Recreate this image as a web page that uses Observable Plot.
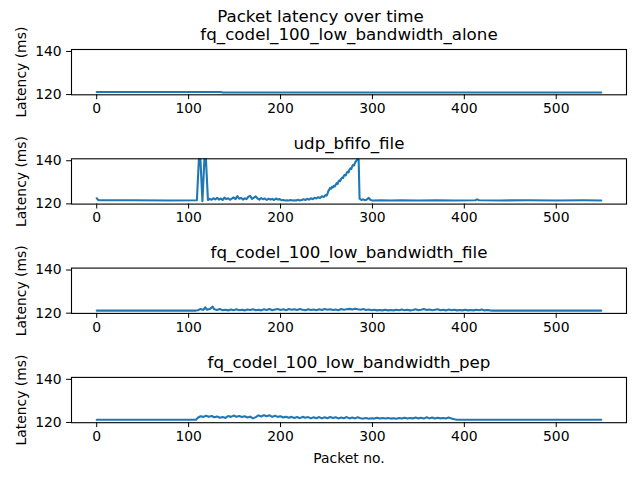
<!DOCTYPE html>
<html>
<head>
<meta charset="utf-8">
<script src="https://cdn.jsdelivr.net/npm/d3@7"></script>
<script src="https://cdn.jsdelivr.net/npm/@observablehq/plot@0.6"></script>
<style>
  body { margin: 0; background: white; }
  #chart { width: 640px; height: 480px; }
</style>
</head>
<body>
<div id="chart"></div>
<script>
const figureTitle = "Packet latency over time";
const panelTitles = [
  "fq_codel_100_low_bandwidth_alone",
  "udp_bfifo_file",
  "fq_codel_100_low_bandwidth_file",
  "fq_codel_100_low_bandwidth_pep"
];
const yLabel = "Latency (ms)";
const xLabel = "Packet no.";
const xTicks = [0, 100, 200, 300, 400, 500];
const yTicks = [120, 140];

// [packet no., latency ms]
const aloneSeries = [[0,121.2],[135,121.2],[137,121.0],[549,121.0]];

const bfifoSeries = [
  [0,122.6],[2,121.7],[40,121.7],[80,121.6],[109,121.7],[112,148],[115,121.3],[118,148],[121,121.8],
  [123,122.3],[125,121.9],[127,122.6],[129,122.1],[131,122.8],[133,122.0],[135,122.5],[137,121.8],
  [139,122.9],[141,122.2],[143,122.6],[145,121.9],[147,122.4],[149,123.0],[151,122.2],[153,123.6],
  [155,122.4],[157,122.8],[159,122.0],[161,122.6],[163,122.2],[165,123.3],[167,123.7],[169,122.3],
  [171,122.9],[173,123.5],[175,122.5],[177,122.0],[179,122.7],[181,122.2],[183,122.5],[185,121.8],
  [187,122.4],[189,122.0],[191,122.3],[193,121.8],[195,122.5],[197,122.0],[199,122.2],[201,121.7],
  [203,121.8],[205,121.6],[207,121.7],[209,121.6],[211,121.8],[213,121.6],[215,121.7],[217,121.6],
  [219,121.9],[221,121.6],[223,121.8],[225,122.1],[227,121.8],[229,122.3],[231,122.0],[233,122.6],
  [235,122.2],[237,122.8],[239,122.5],[241,123.1],[243,122.7],[245,123.5],[247,123.2],[249,124.1],
  [250,123.8],[251,124.6],[252,125.9],[253,126.6],[254,127.4],[255,127.1],[256,127.9],[257,127.6],
  [258,128.4],[259,128.1],[260,128.9],[261,129.6],[262,129.2],[263,130.3],[264,130.9],[265,130.6],
  [266,131.7],[267,132.2],[268,132.0],[269,133.1],[270,133.5],[271,133.2],[272,134.4],[273,134.9],
  [274,134.6],[275,135.9],[276,136.5],[277,136.2],[278,137.4],[279,138.1],[280,137.8],[281,139.0],
  [282,139.7],[283,140.3],[284,140.9],[285,140.6],[286,122.4],[288,121.8],[290,122.1],[292,121.7],
  [294,122.0],[296,122.8],[298,121.8],[300,121.6],[310,121.7],[320,121.6],[330,121.7],[350,121.6],
  [370,121.7],[390,121.6],[412,121.7],[414,122.1],[416,121.7],[440,121.6],[470,121.7],[500,121.6],
  [530,121.7],[549,121.6]
];

const codelFileSeries = [
  [0,121.2],[108,121.2],
  [110,121.4],[113,121.9],[116,121.5],[118,122.7],[120,121.6],[123,121.9],[126,123.0],[128,121.8],
  [131,121.5],[134,121.9],[137,121.4],[140,121.6],[143,121.3],[146,121.7],[149,121.4],[152,121.8],
  [155,121.4],[158,121.6],[161,121.3],[164,121.7],[167,121.5],[170,121.8],[173,121.4],[176,121.6],
  [179,121.3],[182,121.8],[185,121.5],[188,121.9],[191,121.4],[194,121.7],[197,121.9],[200,121.5],
  [203,121.8],[206,121.4],[209,121.9],[212,121.6],[215,121.8],[218,121.5],[221,121.9],[224,121.6],
  [227,121.4],[230,121.8],[233,121.5],[236,121.7],[239,121.4],[242,121.8],[245,121.5],[248,121.9],
  [251,121.6],[254,121.8],[257,121.5],[260,121.7],[263,121.4],[266,121.9],[269,121.6],[272,121.8],
  [275,122.0],[278,121.7],[281,122.1],[284,121.8],[287,121.6],[290,121.9],[293,121.5],[296,121.7],
  [299,121.4],[302,121.6],[305,121.3],[308,121.5],[311,121.3],[314,121.6],[317,121.3],[320,121.5],
  [323,121.3],[326,121.6],[329,121.4],[332,121.7],[335,121.4],[338,121.6],[341,121.3],[344,121.5],
  [347,121.8],[350,121.4],[353,121.6],[356,121.9],[359,121.5],[362,121.7],[365,121.4],[368,121.6],
  [371,121.8],[374,121.4],[377,121.6],[380,121.3],[383,121.7],[386,121.4],[389,121.6],[392,121.3],
  [395,121.5],[398,121.3],[401,121.6],[404,121.3],[407,121.5],[410,121.3],[413,121.6],[416,121.4],
  [419,121.7],[422,121.3],[425,121.5],[428,121.3],[431,121.2],[549,121.2]
];

const codelPepSeries = [
  [0,121.3],[108,121.3],
  [110,122.2],[113,122.9],[116,122.6],[119,123.1],[122,122.7],[125,123.0],[128,122.4],[131,122.8],
  [134,122.2],[137,122.5],[140,122.1],[143,123.0],[146,122.6],[149,123.2],[152,122.7],[155,123.0],
  [158,122.5],[161,122.9],[164,122.3],[167,122.7],[170,121.9],[173,122.5],[176,123.3],[179,122.8],
  [182,123.4],[185,122.9],[188,123.3],[191,122.6],[194,123.1],[197,122.6],[200,122.9],[203,122.3],
  [206,122.7],[209,122.2],[212,122.6],[215,122.1],[218,122.5],[221,122.0],[224,122.6],[227,122.2],
  [230,122.5],[233,121.9],[236,122.4],[239,122.0],[242,122.5],[245,121.9],[248,122.4],[251,122.0],
  [254,122.5],[257,122.1],[260,122.4],[263,121.9],[266,122.3],[269,122.0],[272,122.5],[275,121.9],
  [278,122.3],[281,121.9],[284,122.4],[287,122.0],[290,121.8],[293,122.1],[296,121.7],[299,122.0],
  [302,121.8],[305,122.2],[308,121.8],[311,122.1],[314,121.8],[317,122.1],[320,121.8],[323,122.0],
  [326,121.7],[329,122.1],[332,121.8],[335,122.2],[338,121.8],[341,122.1],[344,121.9],[347,122.3],
  [350,121.9],[353,122.2],[356,121.8],[359,122.4],[362,121.9],[365,122.3],[368,121.8],[371,122.2],
  [374,121.9],[377,122.1],[380,121.8],[383,122.3],[386,121.9],[389,121.5],[392,121.3],[549,121.3]
];

const allSeries = [aloneSeries, bfifoSeries, codelFileSeries, codelPepSeries];

// layout: [svg height, marginTop, marginBottom]
const layouts = [[129, 49, 34.7], [109, 29.3, 34.4], [110, 29.6, 35.1], [132, 28.9, 57.8]];

const xDomain = [-27.45, 576.45];
const yDomain = [119.9, 140.9];

const chart = document.getElementById("chart");
const font = "DejaVu Sans, sans-serif";

allSeries.forEach((series, i) => {
  const [h, mt, mb] = layouts[i];
  const marks = [
    Plot.line(series, {x: d => d[0], y: d => d[1], stroke: "#1f77b4", strokeWidth: 2.1, clip: true}),
    Plot.frame({stroke: "black", strokeWidth: 1.1}),
    Plot.text([panelTitles[i]], {frameAnchor: "top", lineAnchor: "middle", dy: -15, fontSize: 16.7, fill: "black"}),
    Plot.text([yLabel], {
      x: () => xDomain[0],
      y: () => (yDomain[0] + yDomain[1]) / 2,
      textAnchor: "middle",
      lineAnchor: "middle",
      rotate: -90,
      dx: -50,
      fontSize: 13.9,
      fill: "black"
    })
  ];
  if (i === 0) {
    marks.push(Plot.text([figureTitle], {frameAnchor: "top", lineAnchor: "middle", dy: -33, dx: -28.5, fontSize: 16.7, fill: "black"}));
  }
  if (i === 3) {
    marks.push(Plot.text([xLabel], {frameAnchor: "bottom", lineAnchor: "middle", dy: 35.5, fontSize: 13.9, fill: "black"}));
  }
  const svg = Plot.plot({
    width: 640,
    height: h,
    marginLeft: 71,
    marginRight: 14,
    marginTop: mt,
    marginBottom: mb,
    style: {fontFamily: font, fontSize: "13.9px", color: "black", background: "transparent", overflow: "visible"},
    x: {domain: xDomain, ticks: xTicks, tickSize: 4.9, tickPadding: 3.5, label: null},
    y: {domain: yDomain, ticks: yTicks, tickSize: 4.9, tickPadding: 4.9, label: null},
    marks
  });
  chart.appendChild(svg);
});
</script>
</body>
</html>
